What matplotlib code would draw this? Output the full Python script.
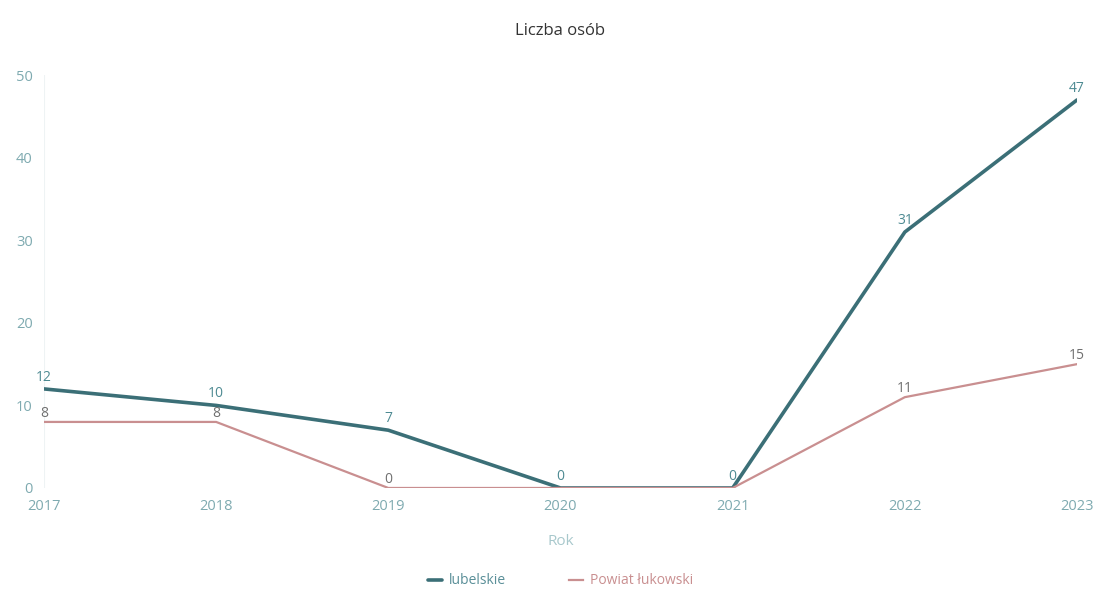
import matplotlib
matplotlib.use("Agg")
import matplotlib.pyplot as plt

plt.rcParams['font.family'] = ['Open Sans', 'DejaVu Sans']

# data
years = [2017, 2018, 2019, 2020, 2021, 2022, 2023]
lubelskie = [12, 10, 7, 0, 0, 31, 47]
powiat = [8, 8, 0, 0, 0, 11, 15]

c_lub = '#3b6f77'
c_pow = '#c98f90'
c_tick = '#7eaab0'

fig = plt.figure(figsize=(10.99, 5.92), dpi=100)
ax = fig.add_axes([0.040, 0.1757, 0.940, 0.6973])

ax.plot(years, lubelskie, color=c_lub, lw=2.6, label='lubelskie', solid_capstyle='round')
ax.plot(years, powiat, color=c_pow, lw=1.6, label='Powiat łukowski')

for x, y in zip(years, lubelskie):
    ax.annotate(str(y), (x, y), xytext=(0, 3), textcoords='offset points',
                ha='center', va='bottom', fontsize=10, color='#4d8a92')
for x, y, yl in zip(years, powiat, lubelskie):
    if y == yl:
        continue  # same point, label already drawn
    ax.annotate(str(y), (x, y), xytext=(0, 1), textcoords='offset points',
                ha='center', va='bottom', fontsize=10, color='#707070')

ax.set_xlim(2017, 2023)
ax.set_ylim(0, 50)
ax.set_yticks([0, 10, 20, 30, 40, 50])
ax.set_xticks(years)
ax.tick_params(axis='both', length=0, labelsize=10.5, colors=c_tick)
ax.tick_params(axis='y', pad=8)
ax.tick_params(axis='x', pad=8)
for s in ax.spines.values():
    s.set_visible(False)
ax.axvline(2017, color='#eef3f4', lw=0.8, zorder=0)

ax.set_title('Liczba osób', fontsize=12, color='#333333', pad=29)
ax.set_xlabel('Rok', fontsize=11, color='#a8c8cc', labelpad=14)

leg = ax.legend(loc='center', bbox_to_anchor=(0.5, -0.225), ncol=2, frameon=False,
                fontsize=10, handlelength=1.0, columnspacing=4.5, handletextpad=0.5)
for t, c in zip(leg.get_texts(), ['#5a8f98', '#c98f90']):
    t.set_color(c)

fig.savefig('out.png', dpi=100)
